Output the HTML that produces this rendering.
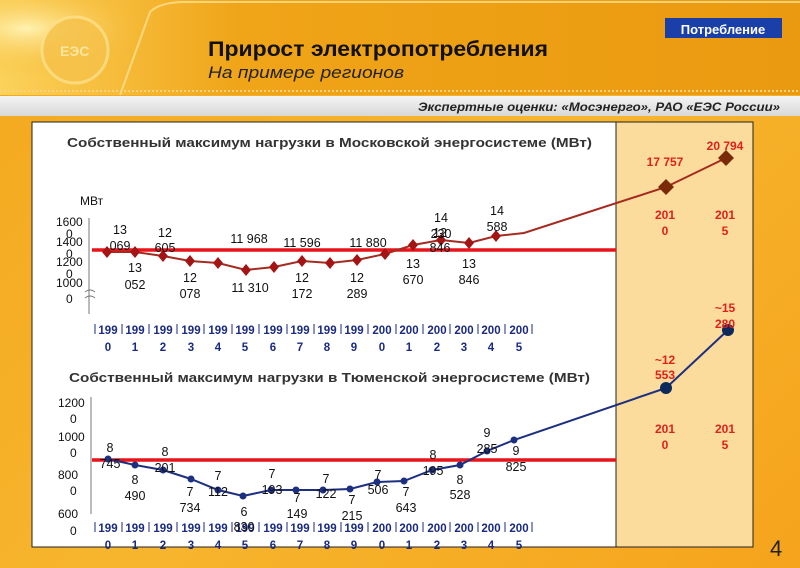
<!DOCTYPE html>
<html><head><meta charset="utf-8"><style>
html,body{margin:0;padding:0;width:800px;height:568px;overflow:hidden}
body{background:linear-gradient(135deg,#f3a81e 0%,#f7b52e 50%,#f5a41c 100%);font-family:"Liberation Sans",sans-serif}
svg{position:absolute;left:0;top:0}
</style></head><body>
<svg width="800" height="568" viewBox="0 0 800 568" font-family="Liberation Sans, sans-serif">
<defs>
<linearGradient id="hdr" x1="0" y1="0" x2="1" y2="0"><stop offset="0" stop-color="#fbd25a"/><stop offset="0.3" stop-color="#f0a418"/><stop offset="1" stop-color="#ea9a10"/></linearGradient>
<linearGradient id="strip" x1="0" y1="0" x2="0" y2="1"><stop offset="0" stop-color="#f4f4f4"/><stop offset="1" stop-color="#d8d8d8"/></linearGradient>
<radialGradient id="sun" cx="0.1" cy="0.3" r="0.5"><stop offset="0" stop-color="#fff2b0"/><stop offset="1" stop-color="#f5b42a" stop-opacity="0"/></radialGradient>
</defs>
<rect x="0" y="0" width="800" height="95" fill="url(#hdr)"/>
<rect x="0" y="0" width="260" height="95" fill="url(#sun)"/>
<circle cx="75" cy="50" r="33" fill="#f6c24a" stroke="#fde08a" stroke-width="3" opacity="0.8"/>
<text x="60" y="56" font-size="14" font-weight="bold" fill="#fbe6a0">ЕЭС</text>
<path d="M120 95 L150 12 Q160 2 185 2 L800 2" fill="none" stroke="#fde7a0" stroke-width="2" opacity="0.7"/>
<line x1="0" y1="91" x2="800" y2="91" stroke="#fbd27a" stroke-width="2" stroke-dasharray="2,2"/>
<rect x="0" y="96" width="800" height="20" fill="url(#strip)"/>
<text x="780" y="111" font-size="12" font-style="italic" font-weight="bold" fill="#222" text-anchor="end" textLength="362" lengthAdjust="spacingAndGlyphs">Экспертные оценки: «Мосэнерго», РАО «ЕЭС России»</text>
<rect x="665" y="18" width="117" height="20" fill="#1a3fa8"/>
<text x="723" y="34" font-size="13" font-weight="bold" fill="#fff" text-anchor="middle">Потребление</text>
<text x="208" y="56" font-size="21" font-weight="bold" fill="#111" textLength="340" lengthAdjust="spacingAndGlyphs">Прирост электропотребления</text>
<text x="208" y="78" font-size="17" font-style="italic" fill="#222" textLength="196" lengthAdjust="spacingAndGlyphs">На примере регионов</text>

<rect x="32" y="122" width="584" height="425" fill="#fff" stroke="#222" stroke-width="1"/>
<rect x="616" y="122" width="137" height="425" fill="#fbdc9c" stroke="#222" stroke-width="1"/>
<text x="770" y="556" font-size="22" fill="#222">4</text>

<g font-weight="bold" font-size="13" fill="#333">
<text x="67" y="147" textLength="525" lengthAdjust="spacingAndGlyphs">Собственный максимум нагрузки в Московской энергосистеме (МВт)</text>
<text x="69" y="382" textLength="521" lengthAdjust="spacingAndGlyphs">Собственный максимум нагрузки в Тюменской энергосистеме (МВт)</text>
</g>

<!-- Moscow chart -->
<g font-size="12" fill="#111">
<text x="80" y="205">МВт</text>
<text x="56" y="226">1600</text><text x="66" y="238">0</text>
<text x="56" y="246">1400</text><text x="66" y="258">0</text>
<text x="56" y="266">1200</text><text x="66" y="278">0</text>
<text x="56" y="287">1000</text><text x="66" y="303">0</text>
</g>
<line x1="89" y1="218" x2="89" y2="314" stroke="#777"/>
<path d="M85 292 q5 -4 10 0 M85 298 q5 -4 10 0" stroke="#777" fill="none"/>
<line x1="92" y1="250" x2="616" y2="250" stroke="#e8141a" stroke-width="3.5"/>
<polyline fill="none" stroke="#a52a20" stroke-width="2" points="107,252 135,252 163,256 190,261 218,263 246,270 274,267 302,261 330,263 357,260 385,254 413,245 441,240 469,243 496,236 524,233 666,187 726,158"/>
<g fill="#a31515">
<path d="M107,246 l5,6 -5,6 -5,-6z M135,246 l5,6 -5,6 -5,-6z M163,250 l5,6 -5,6 -5,-6z M190,255 l5,6 -5,6 -5,-6z M218,257 l5,6 -5,6 -5,-6z M246,264 l5,6 -5,6 -5,-6z M274,261 l5,6 -5,6 -5,-6z M302,255 l5,6 -5,6 -5,-6z M330,257 l5,6 -5,6 -5,-6z M357,254 l5,6 -5,6 -5,-6z M385,248 l5,6 -5,6 -5,-6z M413,239 l5,6 -5,6 -5,-6z M441,234 l5,6 -5,6 -5,-6z M469,237 l5,6 -5,6 -5,-6z M496,230 l5,6 -5,6 -5,-6z"/>
</g>
<g fill="#7a2a08"><path d="M666,179 l8,8 -8,8 -8,-8z M726,150 l8,8 -8,8 -8,-8z"/></g>
<g font-size="12.5" fill="#111" text-anchor="middle">
<text x="120" y="234">13</text><text x="120" y="250">069</text>
<text x="135" y="272">13</text><text x="135" y="289">052</text>
<text x="165" y="237">12</text><text x="165" y="252">605</text>
<text x="190" y="282">12</text><text x="190" y="298">078</text>
<text x="249" y="243">11 968</text>
<text x="250" y="292">11 310</text>
<text x="302" y="247">11 596</text>
<text x="302" y="282">12</text><text x="302" y="298">172</text>
<text x="368" y="247">11 880</text>
<text x="357" y="282">12</text><text x="357" y="298">289</text>
<text x="440" y="237">12</text><text x="440" y="252">846</text>
<text x="413" y="268">13</text><text x="413" y="284">670</text>
<text x="441" y="222">14</text><text x="441" y="238">230</text>
<text x="469" y="268">13</text><text x="469" y="284">846</text>
<text x="497" y="215">14</text><text x="497" y="231">588</text>
</g>
<g font-size="11.5" fill="#1a2a80" font-weight="bold" text-anchor="middle">
<text y="334"><tspan x="108">199</tspan><tspan x="135">199</tspan><tspan x="163">199</tspan><tspan x="191">199</tspan><tspan x="218">199</tspan><tspan x="245">199</tspan><tspan x="273">199</tspan><tspan x="300">199</tspan><tspan x="327">199</tspan><tspan x="354">199</tspan><tspan x="382">200</tspan><tspan x="409">200</tspan><tspan x="437">200</tspan><tspan x="464">200</tspan><tspan x="491">200</tspan><tspan x="519">200</tspan></text>
<text y="351"><tspan x="108">0</tspan><tspan x="135">1</tspan><tspan x="163">2</tspan><tspan x="191">3</tspan><tspan x="218">4</tspan><tspan x="245">5</tspan><tspan x="273">6</tspan><tspan x="300">7</tspan><tspan x="327">8</tspan><tspan x="354">9</tspan><tspan x="382">0</tspan><tspan x="409">1</tspan><tspan x="437">2</tspan><tspan x="464">3</tspan><tspan x="491">4</tspan><tspan x="519">5</tspan></text>
<text y="532"><tspan x="108">199</tspan><tspan x="135">199</tspan><tspan x="163">199</tspan><tspan x="191">199</tspan><tspan x="218">199</tspan><tspan x="245">199</tspan><tspan x="273">199</tspan><tspan x="300">199</tspan><tspan x="327">199</tspan><tspan x="354">199</tspan><tspan x="382">200</tspan><tspan x="409">200</tspan><tspan x="437">200</tspan><tspan x="464">200</tspan><tspan x="491">200</tspan><tspan x="519">200</tspan></text>
<text y="549"><tspan x="108">0</tspan><tspan x="135">1</tspan><tspan x="163">2</tspan><tspan x="191">3</tspan><tspan x="218">4</tspan><tspan x="245">5</tspan><tspan x="273">6</tspan><tspan x="300">7</tspan><tspan x="327">8</tspan><tspan x="354">9</tspan><tspan x="382">0</tspan><tspan x="409">1</tspan><tspan x="437">2</tspan><tspan x="464">3</tspan><tspan x="491">4</tspan><tspan x="519">5</tspan></text>
</g>
<g stroke="#1a2a80" stroke-width="1">
<path d="M95 324v10 M122 324v10 M149 324v10 M177 324v10 M204 324v10 M232 324v10 M259 324v10 M287 324v10 M314 324v10 M341 324v10 M368 324v10 M396 324v10 M423 324v10 M450 324v10 M478 324v10 M505 324v10 M532 324v10"/>
<path d="M95 522v10 M122 522v10 M149 522v10 M177 522v10 M204 522v10 M232 522v10 M259 522v10 M287 522v10 M314 522v10 M341 522v10 M368 522v10 M396 522v10 M423 522v10 M450 522v10 M478 522v10 M505 522v10 M532 522v10"/>
</g>

<!-- Tyumen chart -->
<g font-size="12" fill="#111">
<text x="58" y="407">1200</text><text x="70" y="423">0</text>
<text x="58" y="441">1000</text><text x="70" y="457">0</text>
<text x="58" y="479">800</text><text x="70" y="495">0</text>
<text x="58" y="518">600</text><text x="70" y="535">0</text>
</g>
<line x1="91" y1="397" x2="91" y2="514" stroke="#777"/>
<line x1="92" y1="460" x2="616" y2="460" stroke="#e8141a" stroke-width="3.5"/>
<polyline fill="none" stroke="#1c2f80" stroke-width="2" points="108,459 135,465 163,470 191,479 218,490 243,496 271,490 296,490 323,490 350,489 377,482 404,481 432,470 460,465 487,451 514,440 666,388 728,330"/>
<g fill="#1c2f80">
<circle cx="108" cy="459" r="3.5"/><circle cx="135" cy="465" r="3.5"/><circle cx="163" cy="470" r="3.5"/><circle cx="191" cy="479" r="3.5"/><circle cx="218" cy="490" r="3.5"/><circle cx="243" cy="496" r="3.5"/><circle cx="271" cy="490" r="3.5"/><circle cx="296" cy="490" r="3.5"/><circle cx="323" cy="490" r="3.5"/><circle cx="350" cy="489" r="3.5"/><circle cx="377" cy="482" r="3.5"/><circle cx="404" cy="481" r="3.5"/><circle cx="432" cy="470" r="3.5"/><circle cx="460" cy="465" r="3.5"/><circle cx="487" cy="451" r="3.5"/><circle cx="514" cy="440" r="3.5"/>
</g>
<g fill="#0e2a5a"><circle cx="666" cy="388" r="6"/><circle cx="728" cy="330" r="6"/></g>
<g font-size="12.5" fill="#111" text-anchor="middle">
<text x="110" y="452">8</text><text x="110" y="468">745</text>
<text x="135" y="484">8</text><text x="135" y="500">490</text>
<text x="165" y="456">8</text><text x="165" y="472">201</text>
<text x="190" y="496">7</text><text x="190" y="512">734</text>
<text x="218" y="480">7</text><text x="218" y="496">112</text>
<text x="244" y="516">6</text><text x="244" y="531">830</text>
<text x="272" y="478">7</text><text x="272" y="494">193</text>
<text x="297" y="502">7</text><text x="297" y="518">149</text>
<text x="326" y="483">7</text><text x="326" y="498">122</text>
<text x="352" y="504">7</text><text x="352" y="520">215</text>
<text x="378" y="479">7</text><text x="378" y="494">506</text>
<text x="406" y="496">7</text><text x="406" y="512">643</text>
<text x="433" y="459">8</text><text x="433" y="475">195</text>
<text x="460" y="484">8</text><text x="460" y="499">528</text>
<text x="487" y="437">9</text><text x="487" y="453">285</text>
<text x="516" y="455">9</text><text x="516" y="471">825</text>
</g>
<g font-size="12" fill="#e0201c" font-weight="bold" text-anchor="middle">
<text x="665" y="166">17 757</text>
<text x="725" y="150">20 794</text>
<text x="665" y="219">201</text><text x="665" y="235">0</text>
<text x="725" y="219">201</text><text x="725" y="235">5</text>
<text x="665" y="364">~12</text><text x="665" y="379">553</text>
<text x="725" y="312">~15</text><text x="725" y="328">280</text>
<text x="665" y="433">201</text><text x="665" y="449">0</text>
<text x="725" y="433">201</text><text x="725" y="449">5</text>
</g>
</svg>
</body></html>
